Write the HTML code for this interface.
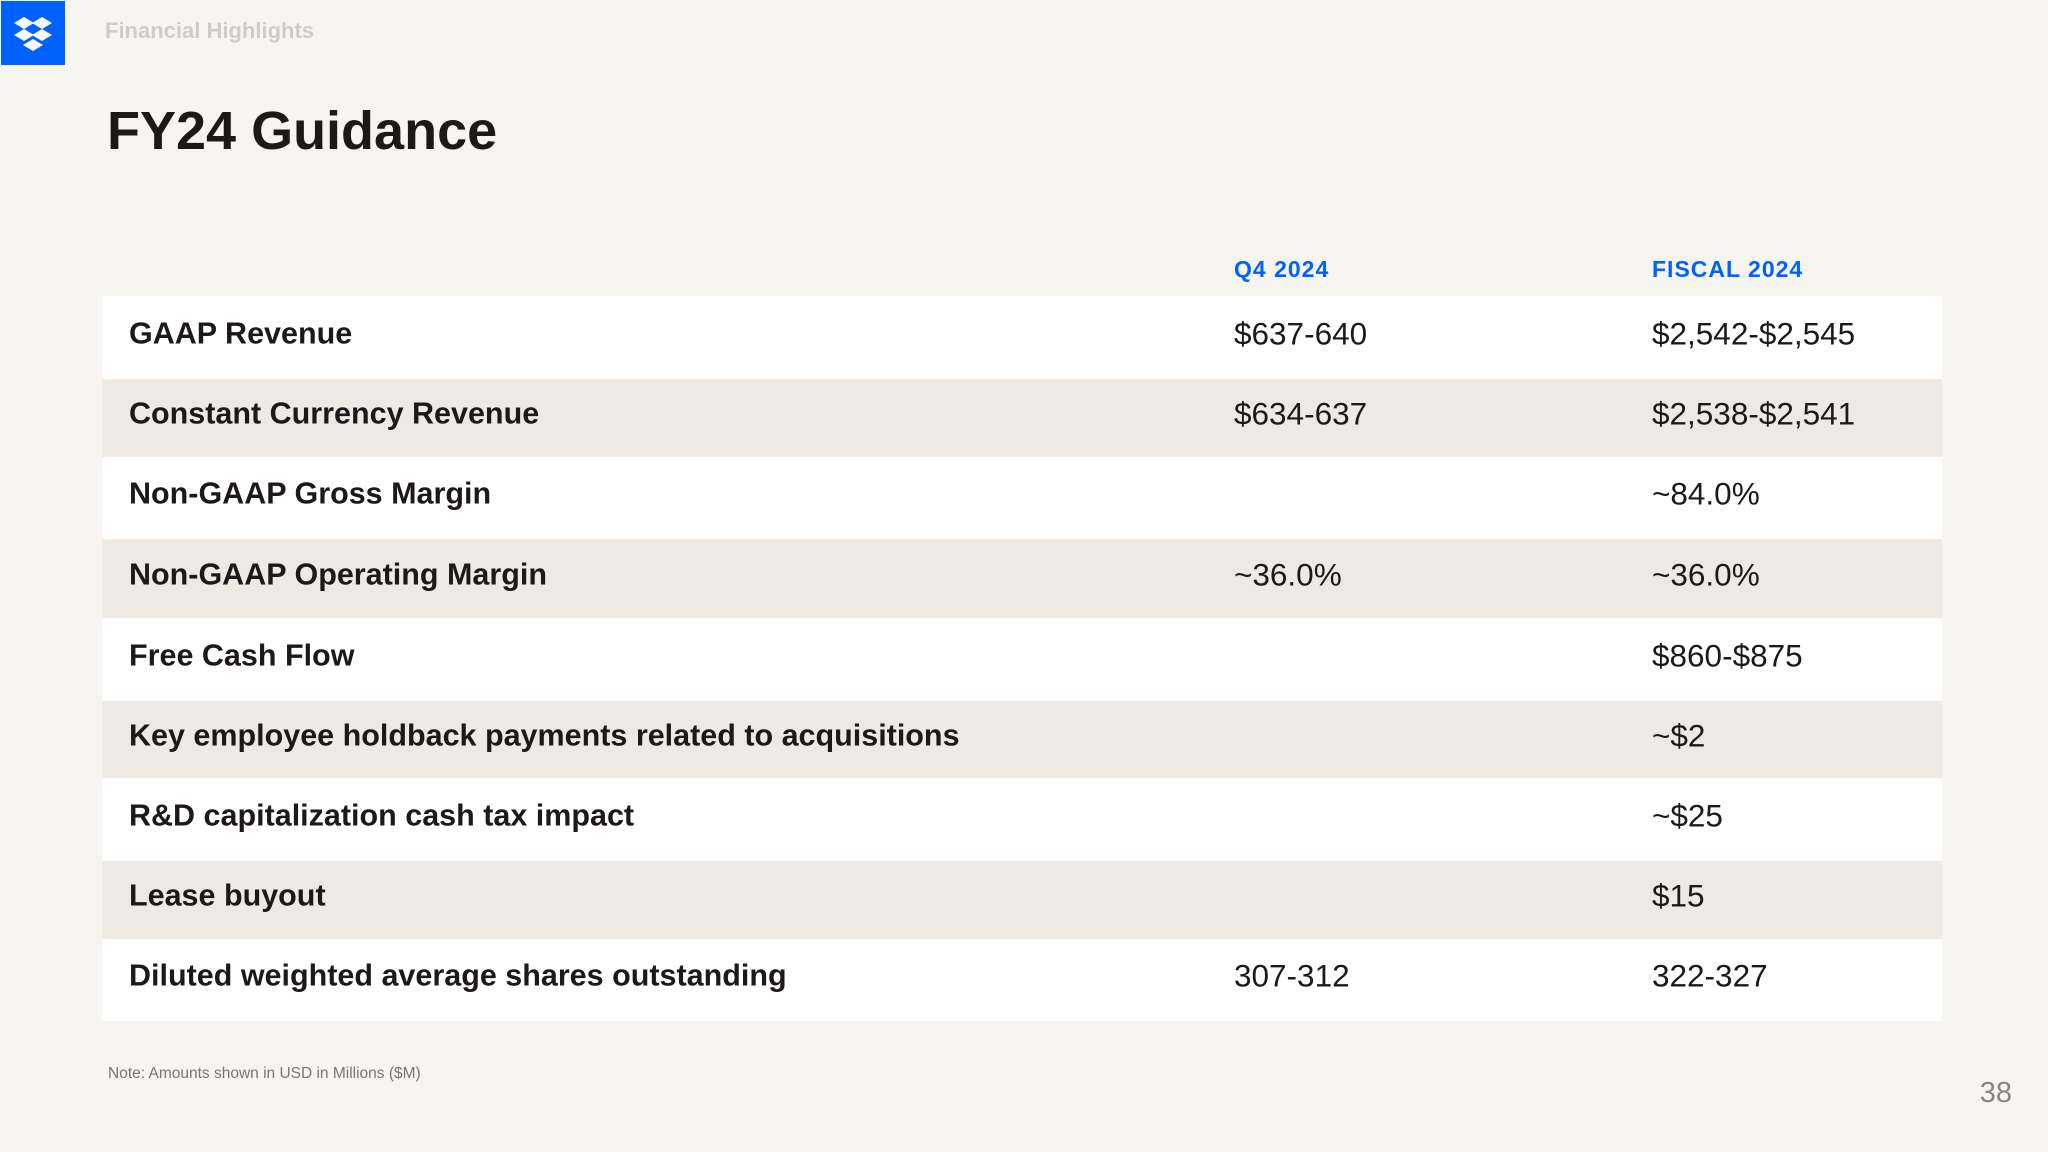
<!DOCTYPE html>
<html><head><meta charset="utf-8"><style>
html,body{margin:0;padding:0;width:2048px;height:1152px;background:#f7f5f2;overflow:hidden;font-family:"Liberation Sans",sans-serif;color:#1e1919}
.abs{position:absolute}
.row{position:absolute;left:102px;width:1840px;}
.row span{position:absolute;top:50%;transform:translateY(-50%);margin-top:-4px;font-size:31.5px;white-space:nowrap}
.lab{left:27px;font-weight:bold;font-size:30.5px !important}
.c1{left:1234px}
.c2{left:1652px}
</style></head><body>
<div class="abs" style="left:1px;top:1px;width:64px;height:64px;background:#0061fe">
<svg width="64" height="64" viewBox="0 0 64 64"><g fill="#fff">
<polygon points="13,22 23,16 33,22 23,28"/><polygon points="31,22 41,16 51,22 41,28"/>
<polygon points="13,34 23,28 33,34 23,40"/><polygon points="31,34 41,28 51,34 41,40"/>
<polygon points="22,44 32,38 42,44 32,50"/></g></svg></div>
<div class="abs" style="left:105px;top:18px;font-size:22px;font-weight:bold;color:#cfcbc6">Financial Highlights</div>
<div class="abs" style="left:107px;top:100px;font-size:54px;font-weight:bold;color:#1e1919">FY24 Guidance</div>
<div class="abs" style="left:1234px;top:256px;font-size:23px;font-weight:bold;color:#0061fe;letter-spacing:1px">Q4 2024</div>
<div class="abs" style="left:1652px;top:256px;font-size:23px;font-weight:bold;color:#0061fe;letter-spacing:1px">FISCAL 2024</div>

<div class="row" style="top:296px;height:83px;background:#fff"><span class="lab">GAAP Revenue</span><span class="c1" style="left:1132px">$637-640</span><span class="c2" style="left:1550px">$2,542-$2,545</span></div>
<div class="row" style="top:379px;height:78px;background:#efe9e3"><span class="lab">Constant Currency Revenue</span><span style="left:1132px">$634-637</span><span style="left:1550px">$2,538-$2,541</span></div>
<div class="row" style="top:457px;height:82px;background:#fff"><span class="lab">Non-GAAP Gross Margin</span><span style="left:1550px">~84.0%</span></div>
<div class="row" style="top:539px;height:79px;background:#efe9e3"><span class="lab">Non-GAAP Operating Margin</span><span style="left:1132px">~36.0%</span><span style="left:1550px">~36.0%</span></div>
<div class="row" style="top:618px;height:83px;background:#fff"><span class="lab">Free Cash Flow</span><span style="left:1550px">$860-$875</span></div>
<div class="row" style="top:701px;height:77px;background:#efe9e3"><span class="lab">Key employee holdback payments related to acquisitions</span><span style="left:1550px">~$2</span></div>
<div class="row" style="top:778px;height:83px;background:#fff"><span class="lab">R&amp;D capitalization cash tax impact</span><span style="left:1550px">~$25</span></div>
<div class="row" style="top:861px;height:78px;background:#efe9e3"><span class="lab">Lease buyout</span><span style="left:1550px">$15</span></div>
<div class="row" style="top:939px;height:82px;background:#fff"><span class="lab">Diluted weighted average shares outstanding</span><span style="left:1132px">307-312</span><span style="left:1550px">322-327</span></div>

<div class="abs" style="left:108px;top:1065px;font-size:15.5px;color:#7a7570">Note: Amounts shown in USD in Millions ($M)</div>
<div class="abs" style="right:36px;top:1077px;font-size:29px;color:#8a8580">38</div>
</body></html>
